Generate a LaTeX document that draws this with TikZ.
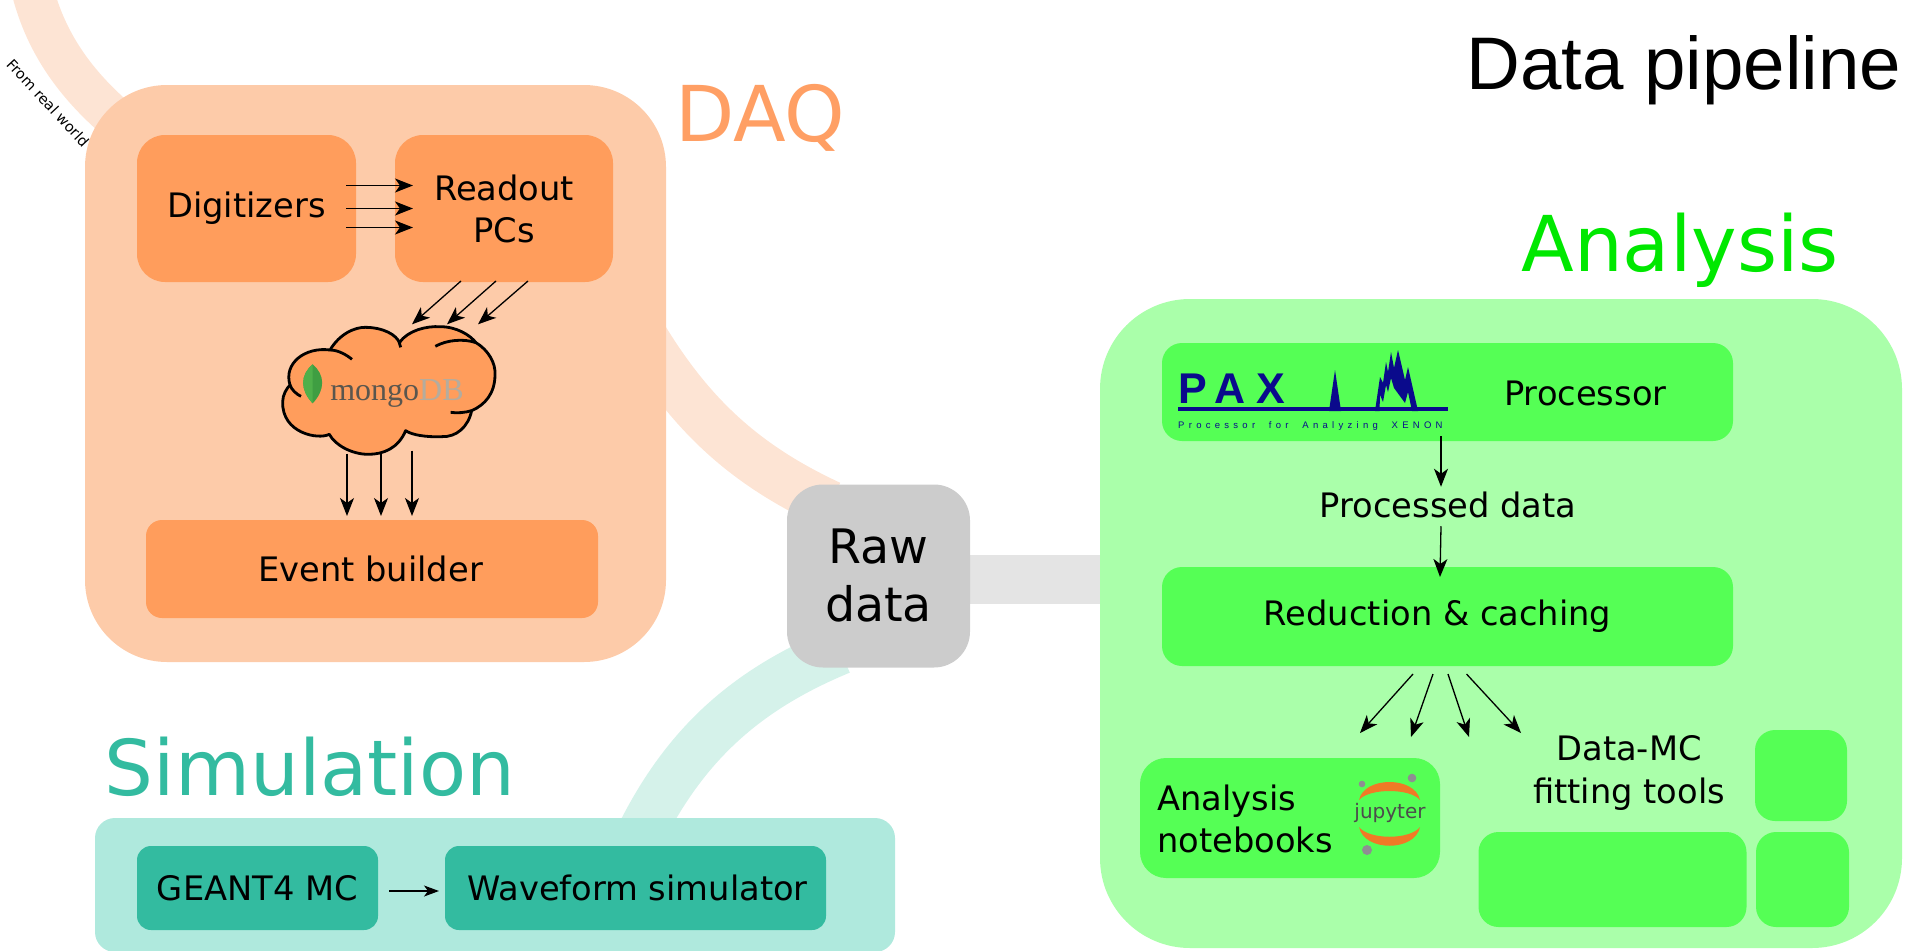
\documentclass[tikz,border=0pt]{standalone}
\usepackage{fontspec}
\setmainfont{DejaVu Sans}
\newfontfamily\paxfont[LetterSpace=25]{Liberation Sans}
\newfontfamily\paxsmall[LetterSpace=45]{Liberation Sans}
\newfontfamily\titlefont{Liberation Sans}
\newfontfamily\mongofont{Liberation Serif}
\usetikzlibrary{positioning, arrows.meta, backgrounds}

\definecolor{daqouter}{HTML}{FDCBA9}
\definecolor{daqinner}{HTML}{FF9D5C}
\definecolor{daqband}{HTML}{FDE4D4}
\definecolor{daqtitle}{HTML}{FF9F64}
\definecolor{anaouter}{HTML}{AAFFAA}
\definecolor{anainner}{HTML}{55FF55}
\definecolor{anatitle}{HTML}{00E800}
\definecolor{simouter}{HTML}{AFE9DD}
\definecolor{siminner}{HTML}{33BBA0}
\definecolor{simband}{HTML}{D5F2EA}
\definecolor{rawgrey}{HTML}{CCCCCC}
\definecolor{rawband}{HTML}{E4E4E4}
\definecolor{paxblue}{HTML}{0A0A8C}
\definecolor{jupyorange}{HTML}{F07A26}
\definecolor{jupygrey}{HTML}{8E8E92}
\definecolor{leafdark}{HTML}{3F9E42}
\definecolor{leaflight}{HTML}{4FB04A}
\definecolor{mongodark}{HTML}{5A564E}
\definecolor{mongolight}{HTML}{B4AC9E}

\tikzset{
  panel/.style={inner sep=0pt, outer sep=0pt, align=center, font=\fontsize{33.7}{42}\selectfont},
  daqbox/.style={panel, fill=daqinner, rounded corners=28pt},
  anabox/.style={panel, fill=anainner, rounded corners=20pt},
  simbox/.style={panel, fill=siminner, rounded corners=14pt},
  heading/.style={inner sep=0pt, anchor=base, font=\fontsize{77}{80}\selectfont},
  flow/.style={-{Stealth[length=18pt,width=14pt,inset=5pt]}, line width=1.3pt, black},
  band/.style={line width=48pt}
}

\begin{document}
\begin{tikzpicture}[x=1pt, y=-1pt]
      \useasboundingbox (0,0) rectangle (1905,950);

      \node[panel, fill=daqouter, rounded corners=82pt, minimum width=581pt, minimum height=577pt] (daq) at (375.5,373.5) {};
      \node[daqbox, minimum width=219pt, minimum height=147pt] (digi) at (246.5,208.5) {Digitizers};
      \node[daqbox, minimum width=218pt, minimum height=147pt, right of=digi, node distance=257.5pt] (readout) {Readout\\PCs};
      \node[panel, fill=daqinner, rounded corners=16pt, minimum width=452pt, minimum height=98pt] (evb) at (372,569) {Event builder\hspace*{3pt}};
      \node[inner sep=0pt, minimum width=215pt, minimum height=129pt] (cloud) at (390,390) {};
      \node[heading, text=daqtitle] (daqlabel) at (760,141) {DAQ};
      \coordinate (world) at (30,-20);

      \begin{scope}[shift={(240,300)}, scale=0.3333]
        \path[fill=daqinner, draw=black, line width=2.8pt, line join=round]
          (150,255) .. controls (130,190) and (195,140) .. (270,150)
          .. controls (300,100) and (345,82) .. (375,82)
          .. controls (430,82) and (470,105) .. (478,128)
          .. controls (505,90) and (560,78) .. (600,80)
          .. controls (650,80) and (690,105) .. (708,128)
          .. controls (745,150) and (768,190) .. (765,225)
          .. controls (765,280) and (735,315) .. (695,332)
          .. controls (685,380) and (650,412) .. (605,410)
          .. controls (560,412) and (515,405) .. (497,392)
          .. controls (475,445) and (430,463) .. (385,463)
          .. controls (335,463) and (285,435) .. (268,403)
          .. controls (235,420) and (125,400) .. (128,305)
          .. controls (128,285) and (140,265) .. (150,255) -- cycle;
        \draw[line width=2.8pt] (270,150) .. controls (295,150) and (320,165) .. (336,178);
        \draw[line width=2.8pt] (478,128) -- (482,142);
        \draw[line width=2.8pt] (586,139) .. controls (620,120) and (670,115) .. (708,128);
        \draw[line width=2.8pt] (695,332) .. controls (675,338) and (650,340) .. (632,337);
        \draw[line width=2.8pt] (150,255) .. controls (155,270) and (170,283) .. (183,289);
        \fill[leafdark] (218,193) .. controls (180,225) and (180,270) .. (218,310) .. controls (256,270) and (256,225) .. (218,193) -- cycle;
        \fill[leaflight] (218,193) .. controls (180,225) and (180,270) .. (218,310) -- cycle;
      \end{scope}
      \node[inner sep=0pt, anchor=base, font=\fontsize{32}{32}\mongofont] (mongo) at (397,400) {\textcolor{mongodark}{mongo}\textcolor{mongolight}{DB}};

      \draw[flow] ([xshift=-10pt,yshift=23pt]digi.east)--([xshift=18pt,yshift=23pt]readout.west);
      \draw[flow] ([xshift=-10pt,yshift=0pt]digi.east)--([xshift=18pt,yshift=0pt]readout.west);
      \draw[flow] ([xshift=-10pt,yshift=-19pt]digi.east)--([xshift=18pt,yshift=-19pt]readout.west);

      \draw[flow] ([xshift=-43pt,yshift=1pt]readout.south)--([xshift=22pt,yshift=1pt]cloud.north);
      \draw[flow] ([xshift=-8pt,yshift=1pt]readout.south)--([xshift=57pt,yshift=1pt]cloud.north);
      \draw[flow] ([xshift=24pt,yshift=1pt]readout.south)--([xshift=88pt,yshift=1pt]cloud.north);

      \draw[flow] ([xshift=-43pt,yshift=1pt]cloud.south)--([xshift=-25pt,yshift=4pt]evb.north);
      \draw[flow] ([xshift=-9pt,yshift=1pt]cloud.south)--([xshift=9pt,yshift=4pt]evb.north);
      \draw[flow] ([xshift=22pt,yshift=4pt]cloud.south)--([xshift=40pt,yshift=4pt]evb.north);

      \node[inner sep=0pt, rotate=-47, font=\fontsize{14.5}{16}\selectfont] (worldlabel) at (48,103) {From real world};

      \node[panel, fill=rawgrey, rounded corners=36pt, minimum width=183pt, minimum height=183pt, font=\fontsize{47.5}{58}\selectfont] (raw) at (878.5,576) {Raw\\data};

      \node[panel, fill=simouter, rounded corners=20pt, minimum width=800pt, minimum height=134pt] (sim) at (495,885) {};
      \node[simbox, minimum width=241pt, minimum height=84pt] (geant) at (257.5,888) {GEANT4 MC};
      \node[simbox, minimum width=381pt, minimum height=84pt, right of=geant, node distance=378pt] (wave) {\hspace*{4pt}Waveform simulator};
      \node[heading, text=siminner] (simlabel) at (310,795) {Simulation};
      \draw[-{Stealth[length=15pt,width=11pt,inset=4pt]}, line width=1.3pt] ([xshift=11pt,yshift=-3pt]geant.east)--([xshift=-6pt,yshift=-3pt]wave.west);

      \node[panel, fill=anaouter, rounded corners=90pt, minimum width=802pt, minimum height=649pt] (ana) at (1501,623.5) {};
      \node[anabox, minimum width=571pt, minimum height=98pt] (proc) at (1447.5,392) {};
      \node[anchor=west, inner sep=0pt, font=\fontsize{33.7}{42}\selectfont] (proclabel) at (1504,393) {Processor};
      \node[inner sep=0pt, anchor=base west, font=\fontsize{43}{43}\paxfont\bfseries, text=paxblue] (pax) at (1178,403) {PAX};
      \node[inner sep=0pt, anchor=base west, font=\fontsize{9.5}{9.5}\paxsmall, text=paxblue] (paxsub) at (1178,428) {Processor\ \ for\ \ Analyzing\ \ XENON};
      \draw[paxblue, line width=3.6pt, line join=bevel] (1178,409) -- (1448,409);
      \fill[paxblue] (1329,411) -- (1335,370) -- (1341,411) -- cycle;
      \fill[paxblue] (1375,411) -- (1380,377) -- (1383,383) -- (1386,362) -- (1388,372) -- (1391,352) -- (1394,368) -- (1398,350) -- (1405,380) -- (1408,367) -- (1418,411) -- (1412,411) -- (1408,392) -- (1405,403) -- (1394,388) -- (1391,378) -- (1388,392) -- (1386,385) -- (1383,402) -- (1380,395) -- (1379.5,411) -- cycle;

      \node[inner sep=0pt, font=\fontsize{33.7}{42}\selectfont] (procd) at (1448,505) {Processed data};
      \node[anabox, minimum width=571pt, minimum height=99pt] (redu) at (1447.5,616.5) {Reduction \& caching\hspace*{20pt}};
      \draw[flow] ([xshift=-6.5pt,yshift=5pt]proc.south)--([xshift=-7pt,yshift=5pt]procd.north);
      \draw[flow] ([xshift=-7pt,yshift=-8pt]procd.south)--([xshift=-7.5pt,yshift=-10pt]redu.north);

      \node[anabox, rounded corners=26pt, minimum width=300pt, minimum height=120pt] (note) at (1290,818) {};
      \node[anchor=west, inner sep=0pt, align=left, font=\fontsize{33.7}{42}\selectfont] (notelabel) at (1157,819) {Analysis\\notebooks};
      \fill[jupyorange] (1359,800) .. controls (1364,776) and (1415,776) .. (1420,800) .. controls (1410,788) and (1369,788) .. (1359,800) -- cycle;
      \fill[jupyorange] (1359,827) .. controls (1364,852) and (1415,852) .. (1420,827) .. controls (1410,840) and (1369,840) .. (1359,827) -- cycle;
      \fill[jupygrey] (1412,778) circle (4.3);
      \fill[jupygrey] (1362,784) circle (3.3);
      \fill[jupygrey] (1367,850) circle (5);
      \node[inner sep=0pt, font=\fontsize{20}{20}\selectfont, text=black!70] (jupyter) at (1390,813) {jupyter};

      \node[inner sep=0pt, align=center, font=\fontsize{33.7}{43}\selectfont] (fit) at (1629,773) {Data-MC\\fitting tools};
      \node[anabox, minimum width=92pt, minimum height=91pt] (fita) at (1801,775.5) {};
      \node[anabox, minimum width=268pt, minimum height=95pt] (fitb) at (1612.5,879.5) {};
      \node[anabox, minimum width=93pt, minimum height=95pt] (fitc) at (1802.5,879.5) {};

      \coordinate (toa) at (1360,733);
      \coordinate (tob) at (1411,737);
      \coordinate (toc) at (1469,737);
      \coordinate (tod) at (1521,733);
      \draw[flow] ([xshift=-34.5pt,yshift=-8pt]redu.south)--(toa);
      \draw[flow] ([xshift=-14.5pt,yshift=-8pt]redu.south)--(tob);
      \draw[flow] ([xshift=0.5pt,yshift=-8pt]redu.south)--(toc);
      \draw[flow] ([xshift=19pt,yshift=-8pt]redu.south)--(tod);

      \node[heading, text=anatitle] (analabel) at (1680,271) {Analysis};
      \node[heading, font=\fontsize{74.5}{80}\titlefont] (pipeline) at (1684,89) {Data pipeline};

      \begin{pgfonlayer}{background}
        \draw[band, draw=daqband, line width=42pt] (world) .. controls (45,50) and (85,95) .. ([xshift=48pt,yshift=-48pt]daq.north west);
        \draw[band, draw=daqband] ([xshift=-26pt,yshift=43pt]daq.east) .. controls (690,415) and (745,465) .. ([xshift=43pt,yshift=-20pt]raw.north west);
        \draw[band, draw=simband] ([xshift=145pt,yshift=-17pt]sim.north) .. controls (685,745) and (745,690) .. ([xshift=-38pt,yshift=17pt]raw.south);
        \draw[band, draw=rawband, line width=49pt] ([yshift=-3pt]raw.east)--([yshift=44.5pt]ana.west);
      \end{pgfonlayer}
    \end{tikzpicture}
\end{document}
